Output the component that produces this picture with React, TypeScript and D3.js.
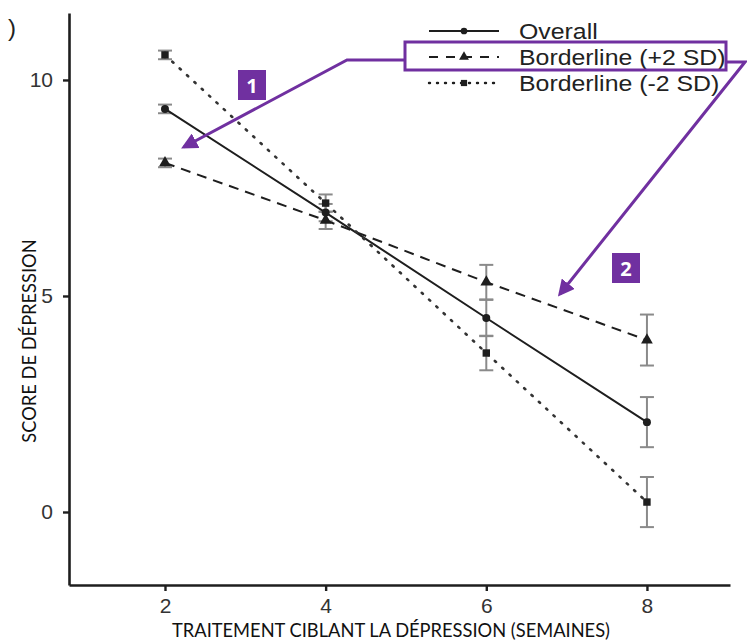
import React, { useRef, useEffect } from 'react';
import * as d3 from 'd3';

// semaines de traitement
const weeks = [2, 4, 6, 8];

// scores moyens par série
const overall = [9.33, 6.93, 4.49, 2.08];
const plus2sd = [8.08, 6.75, 5.32, 3.98];
const minus2sd = [10.58, 7.15, 3.68, 0.23];

// demi-largeur des barres d'erreur
const overallErr = [0.1, 0.2, 0.42, 0.58];
const plus2sdErr = [0.1, 0.2, 0.4, 0.59];
const minus2sdErr = [0.1, 0.2, 0.4, 0.58];

const xTicks = [2, 4, 6, 8];
const yTicks = [0, 5, 10];

const seriesNames = ['Overall', 'Borderline (+2 SD)', 'Borderline (-2 SD)'];

const W = 747;
const H = 640;
const PURPLE = '#7030a0';
const INK = '#1e1e1e';

const App = () => {
  const svgRef = useRef<SVGSVGElement>(null);

  useEffect(() => {
    const svg = d3.select(svgRef.current);
    svg.selectAll('*').remove();

    const x = d3.scaleLinear().domain([0.805, 9.034]).range([69, 730]);
    const y = d3.scaleLinear().domain([-1.69, 11.55]).range([585, 13]);

    const series = [
      { name: seriesNames[0], values: overall, err: overallErr, dash: null, symbol: d3.symbolCircle, size: 50 },
      { name: seriesNames[1], values: plus2sd, err: plus2sdErr, dash: '10,7', symbol: d3.symbolTriangle, size: 60 },
      { name: seriesNames[2], values: minus2sd, err: minus2sdErr, dash: '1.5,8.5', symbol: d3.symbolSquare, size: 55 },
    ];
    const isDot = (s: { dash: string | null }) => s.dash === '1.5,8.5';

    // axes
    const yAxis = svg.append('g')
      .attr('transform', `translate(${x.range()[0]},0)`)
      .call(d3.axisLeft(y).tickValues(yTicks).tickSize(6).tickPadding(10).tickSizeOuter(0));
    const xAxis = svg.append('g')
      .attr('transform', `translate(0,${y.range()[0]})`)
      .call(d3.axisBottom(x).tickValues(xTicks).tickSize(6).tickPadding(7).tickSizeOuter(0));

    [yAxis, xAxis].forEach(a => {
      a.select('.domain').attr('stroke', INK).attr('stroke-width', 2.6);
      a.selectAll('.tick line').attr('stroke', INK).attr('stroke-width', 2.4);
      a.selectAll('.tick text')
        .attr('fill', '#333')
        .attr('font-family', '"Liberation Sans", Arial, sans-serif')
        .attr('font-size', 21);
    });

    // titres
    svg.append('text')
      .attr('x', 391).attr('y', 637)
      .attr('text-anchor', 'middle')
      .attr('font-family', 'Lato, "Open Sans", sans-serif')
      .attr('font-size', 18.3)
      .attr('fill', '#111')
      .text('TRAITEMENT CIBLANT LA DÉPRESSION (SEMAINES)');

    svg.append('text')
      .attr('transform', 'translate(36,341) rotate(-90)')
      .attr('text-anchor', 'middle')
      .attr('font-family', 'Lato, "Open Sans", sans-serif')
      .attr('font-size', 18.3)
      .attr('fill', '#111')
      .text('SCORE DE DÉPRESSION');

    svg.append('text')
      .attr('x', 8).attr('y', 36)
      .attr('font-family', '"Liberation Sans", Arial, sans-serif')
      .attr('font-size', 24)
      .attr('fill', '#222')
      .text(')');

    const line = d3.line<number>()
      .x((_, i) => x(weeks[i]))
      .y(d => y(d));

    // barres d'erreur
    series.forEach(s => {
      const g = svg.append('g');
      s.values.forEach((v, i) => {
        const cx = x(weeks[i]);
        const y0 = y(v - s.err[i]);
        const y1 = y(v + s.err[i]);
        g.append('line').attr('x1', cx).attr('x2', cx).attr('y1', y0).attr('y2', y1)
          .attr('stroke', '#8a8a8a').attr('stroke-width', 2);
        [y0, y1].forEach(yy => {
          g.append('line').attr('x1', cx - 7).attr('x2', cx + 7).attr('y1', yy).attr('y2', yy)
            .attr('stroke', '#8a8a8a').attr('stroke-width', 2);
        });
      });
    });

    // lignes et marqueurs
    series.forEach(s => {
      svg.append('path')
        .attr('d', line(s.values))
        .attr('fill', 'none')
        .attr('stroke', isDot(s) ? '#333' : INK)
        .attr('stroke-width', isDot(s) ? 2.6 : 2)
        .attr('stroke-linecap', isDot(s) ? 'round' : 'butt')
        .attr('stroke-dasharray', s.dash);
      svg.selectAll(null)
        .data(s.values)
        .enter()
        .append('path')
        .attr('d', d3.symbol(s.symbol, s.size)())
        .attr('transform', (d, i) => `translate(${x(weeks[i])},${y(d)})`)
        .attr('fill', INK);
    });

    // légende
    const legend = svg.append('g').attr('transform', 'translate(429,31)');
    series.forEach((s, i) => {
      const row = legend.append('g').attr('transform', `translate(0,${i * 26})`);
      row.append('line')
        .attr('x1', 0).attr('x2', 70).attr('y1', 0).attr('y2', 0)
        .attr('stroke', INK)
        .attr('stroke-width', isDot(s) ? 2.4 : 2)
        .attr('stroke-linecap', isDot(s) ? 'round' : 'butt')
        .attr('stroke-dasharray', s.dash === '10,7' ? '9,8' : isDot(s) ? '1,7' : null);
      row.append('path')
        .attr('d', d3.symbol(s.symbol, s.size * 0.7)())
        .attr('transform', 'translate(35,0)')
        .attr('fill', INK);
      row.append('text')
        .attr('transform', 'translate(90,8) scale(1.13,1)')
        .attr('font-family', '"Liberation Sans", Arial, sans-serif')
        .attr('font-size', 22)
        .attr('fill', '#222')
        .text(s.name);
    });

    // annotations
    const defs = svg.append('defs');
    defs.append('marker')
      .attr('id', 'arrowhead')
      .attr('viewBox', '0 0 10 10')
      .attr('refX', 8).attr('refY', 5)
      .attr('markerWidth', 5.5).attr('markerHeight', 5.5)
      .attr('orient', 'auto')
      .append('path').attr('d', 'M0,0 L10,5 L0,10 z').attr('fill', PURPLE);

    svg.append('rect')
      .attr('x', 405).attr('y', 42).attr('width', 321).attr('height', 28)
      .attr('fill', 'none').attr('stroke', PURPLE).attr('stroke-width', 3);

    svg.append('polyline')
      .attr('points', '405,60 347,60 184,147')
      .attr('fill', 'none').attr('stroke', PURPLE).attr('stroke-width', 3)
      .attr('marker-end', 'url(#arrowhead)');
    svg.append('polyline')
      .attr('points', '726,62 745,62 560,294')
      .attr('fill', 'none').attr('stroke', PURPLE).attr('stroke-width', 3)
      .attr('marker-end', 'url(#arrowhead)');

    const boxes = [
      { label: '1', x: 238, y: 70 },
      { label: '2', x: 612, y: 253 },
    ];
    boxes.forEach(b => {
      svg.append('rect')
        .attr('x', b.x).attr('y', b.y).attr('width', 28).attr('height', 30)
        .attr('fill', PURPLE);
      svg.append('text')
        .attr('x', b.x + 14).attr('y', b.y + 23)
        .attr('text-anchor', 'middle')
        .attr('font-family', '"Open Sans", sans-serif')
        .attr('font-weight', 'bold')
        .attr('font-size', 20)
        .attr('fill', '#fff')
        .text(b.label);
    });
  }, []);

  return (
    <svg
      ref={svgRef}
      width={W}
      height={H}
      style={{ position: 'absolute', left: 0, top: 0, background: '#fff' }}
    />
  );
};

export default App;
